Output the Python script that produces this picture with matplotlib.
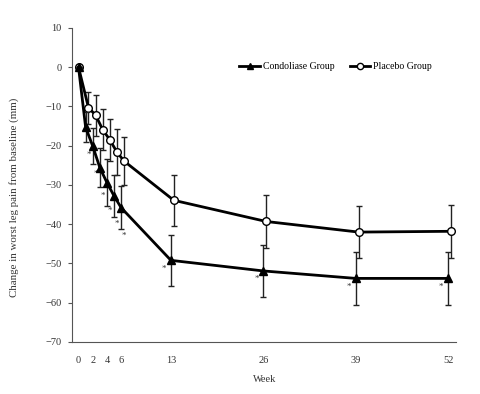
import matplotlib
matplotlib.use("Agg")
import matplotlib.pyplot as plt
from matplotlib.lines import Line2D

plt.rcParams['font.family'] = ['Liberation Serif', 'DejaVu Serif']

weeks = [0, 1, 2, 3, 4, 5, 6, 13, 26, 39, 52]
condoliase = [0, -15.3, -20.1, -25.6, -29.4, -32.8, -35.8, -49.2, -51.9, -53.8, -53.8]
condoliase_sd = [0, 3.8, 4.5, 4.9, 5.9, 5.3, 5.5, 6.5, 6.7, 6.8, 6.8]
placebo = [0, -10.3, -12.2, -15.9, -18.5, -21.6, -23.9, -33.9, -39.3, -42.0, -41.8]
placebo_sd = [0, 4.1, 5.2, 5.3, 5.4, 5.9, 6.1, 6.5, 6.7, 6.6, 6.7]
significant = [False, True, True, True, True, True, True, True, True, True, True]
xtick_vals = [0, 2, 4, 6, 13, 26, 39, 52]
ytick_vals = [10, 0, -10, -20, -30, -40, -50, -60, -70]

fig = plt.figure(figsize=(4.8, 3.94), dpi=100)
ax = fig.add_axes([0.151, 0.132, 0.799, 0.797])

p_off = 0.4
pw = [w + p_off if w > 0 else w for w in weeks]

ax.errorbar(pw, placebo, yerr=placebo_sd, color='black', lw=2.0,
            marker='o', ms=5.5, mfc='white', mec='black', mew=1.0,
            ecolor='#222222', elinewidth=1.0, capsize=2, capthick=1.0, zorder=3)
ax.errorbar(weeks, condoliase, yerr=condoliase_sd, color='black', lw=2.0,
            marker='^', ms=5.5, mfc='black', mec='black',
            ecolor='#222222', elinewidth=1.0, capsize=2, capthick=1.0, zorder=4)

for w, v, s in zip(weeks, condoliase, significant):
    if not s:
        continue
    if w <= 6:
        off = (2.2, -20)
    else:
        off = (-5, -6)
    ax.annotate('*', xy=(w, v), xytext=off, textcoords='offset points',
                ha='center', va='center', fontsize=6.5, color='#333333')

ax.set_xlim(-0.85, 53.1)
ax.set_ylim(-70, 10)
ax.set_xticks(xtick_vals)
ax.set_yticks(ytick_vals)
ax.set_yticklabels([str(t).replace('-', '\u2212') for t in ytick_vals])
ax.tick_params(axis='x', length=0, pad=10, labelsize=7.5, labelcolor='#333333')
ax.tick_params(axis='y', length=3, width=0.8, direction='out', pad=5, labelsize=7.5,
               labelcolor='#333333', color='#555555')
for sp in ['top', 'right']:
    ax.spines[sp].set_visible(False)
for sp in ['left', 'bottom']:
    ax.spines[sp].set_linewidth(0.8)
    ax.spines[sp].set_color('#555555')

ax.set_xlabel('Week', fontsize=7.5, labelpad=7, color='#333333')
ax.set_ylabel('Change in worst leg pain from baseline (mm)', fontsize=7.8, color='#333333')
ax.yaxis.set_label_coords(-0.14, 0.46)

handles = [
    Line2D([], [], color='black', lw=2.0, marker='^', ms=4.5, mfc='black'),
    Line2D([], [], color='black', lw=2.0, marker='o', ms=4.5, mfc='white', mew=1.0),
]
ax.legend(handles, ['Condoliase Group', 'Placebo Group'], ncol=2, frameon=False,
          loc='upper right', bbox_to_anchor=(0.96, 0.918), fontsize=7.0,
          handlelength=2.1, handletextpad=0.3, columnspacing=1.6)

fig.savefig('out.png', dpi=100)
